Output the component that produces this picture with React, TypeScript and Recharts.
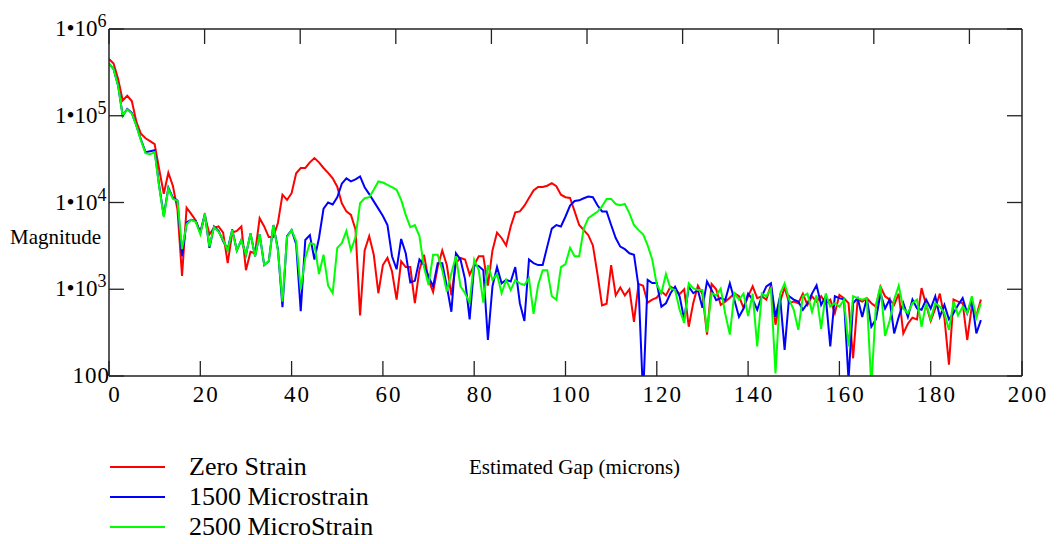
import React from "react";
import { LineChart, Line, XAxis, YAxis, Legend } from "recharts";

const gapMicrons = [
  0, 1, 2, 3, 4, 5, 6, 7, 8, 9, 10, 11, 12, 13, 14, 15, 16, 17, 18, 19,
  20, 21, 22, 23, 24, 25, 26, 27, 28, 29, 30, 31, 32, 33, 34, 35, 36, 37, 38, 39,
  40, 41, 42, 43, 44, 45, 46, 47, 48, 49, 50, 51, 52, 53, 54, 55, 56, 57, 58, 59,
  60, 61, 62, 63, 64, 65, 66, 67, 68, 69, 70, 71, 72, 73, 74, 75, 76, 77, 78, 79,
  80, 81, 82, 83, 84, 85, 86, 87, 88, 89, 90, 91, 92, 93, 94, 95, 96, 97, 98, 99,
  100, 101, 102, 103, 104, 105, 106, 107, 108, 109, 110, 111, 112, 113, 114, 115, 116, 117, 118, 119,
  120, 121, 122, 123, 124, 125, 126, 127, 128, 129, 130, 131, 132, 133, 134, 135, 136, 137, 138, 139,
  140, 141, 142, 143, 144, 145, 146, 147, 148, 149, 150, 151, 152, 153, 154, 155, 156, 157, 158, 159,
  160, 161, 162, 163, 164, 165, 166, 167, 168, 169, 170, 171, 172, 173, 174, 175, 176, 177, 178, 179,
  180, 181, 182, 183, 184, 185, 186, 187, 188, 189, 190, 191,
];

const zeroStrain = [
  450000, 400000, 265000, 150000, 170000, 148000, 85000, 62000, 55000, 51000,
  47000, 24000, 12600, 22000, 15500, 8300, 1420, 8700, 7400, 6200,
  4500, 7000, 4300, 5100, 5300, 4500, 2000, 4500, 4700, 5300,
  1660, 2700, 2600, 6600, 5300, 4000, 4000, 5800, 12300, 10700,
  12800, 21700, 25000, 25000, 29000, 32500, 29000, 25000, 22000, 19000,
  15200, 9800, 7900, 7200, 4900, 500, 2800, 4100, 2500, 900,
  1900, 2300, 1600, 760, 2100, 1800, 1800, 690, 1670, 2500,
  1280, 930, 1800, 2800, 1900, 850, 2000, 2300, 2200, 1470,
  1900, 2400, 2400, 1100, 2800, 4500, 3900, 3200, 5300, 7700,
  7900, 9200, 11300, 13800, 15100, 15100, 15600, 16700, 15400, 12300,
  11500, 11300, 7900, 5500, 4800, 4200, 3200, 1500, 650, 680,
  1900, 850, 1050, 850, 1000, 420, 1150, 1100, 700, 760,
  800, 950, 850, 1070, 1000, 880, 1000, 370, 700, 1100,
  880, 300, 1150, 1000, 660, 720, 800, 900, 830, 610,
  830, 1080, 790, 830, 760, 1120, 390, 720, 1050, 690,
  720, 690, 890, 660, 830, 720, 830, 690, 760, 530,
  860, 790, 690, 160, 760, 720, 790, 690, 630, 1070,
  830, 760, 660, 890, 310, 400, 470, 450, 1030, 660,
  430, 600, 890, 470, 135, 760, 720, 690, 260, 630,
  490, 760,
];

const microstrain1500 = [
  400000, 345000, 222000, 100000, 120000, 108000, 77000, 53000, 38000, 39000,
  40000, 15500, 7000, 14800, 11400, 10500, 2400, 5900, 6300, 6100,
  4500, 7400, 3000, 5300, 4700, 3600, 2900, 4900, 2800, 3700,
  2500, 4400, 2400, 4300, 1900, 2100, 5500, 2900, 620, 4100,
  4800, 3300, 560, 3700, 4200, 2200, 3900, 8500, 10000, 9500,
  11500, 16500, 19000, 17500, 18500, 20000, 15000, 12500, 10300, 8500,
  7000, 5500, 2400, 1700, 3800, 2600, 1200, 1250, 2200, 1900,
  1400, 1080, 2000, 2000, 1080, 550, 2600, 2200, 1300, 450,
  1900, 1850, 1660, 260, 1080, 1800, 1170, 1280, 1230, 1800,
  690, 430, 2200, 2000, 1900, 1900, 3100, 5000, 5500, 5300,
  6900, 9200, 10400, 10600, 11200, 11700, 11500, 9300, 7900, 7900,
  5500, 3900, 3100, 2900, 2600, 2500, 1070, 58, 1280, 1180,
  1180, 630, 690, 900, 1070, 830, 450, 1070, 900, 980,
  610, 1230, 980, 750, 790, 750, 1170, 750, 480, 600,
  890, 760, 580, 830, 1080, 1170, 480, 830, 200, 830,
  760, 720, 580, 690, 890, 1110, 660, 830, 220, 830,
  790, 760, 90, 690, 790, 480, 790, 370, 450, 890,
  600, 760, 310, 480, 690, 480, 760, 600, 580, 760,
  600, 830, 480, 660, 450, 530, 660, 790, 530, 760,
  310, 440,
];

const microstrain2500 = [
  400000, 345000, 222000, 100000, 118000, 106000, 77000, 52000, 37000, 36000,
  38000, 15000, 6800, 14500, 11000, 10500, 2900, 5600, 6300, 6000,
  4300, 7400, 3100, 5200, 4600, 3700, 2800, 4800, 2800, 3700,
  2500, 4400, 2400, 4300, 1900, 2100, 5500, 2800, 720, 4000,
  4800, 3600, 1000, 2300, 3400, 3300, 1500, 2500, 1100, 900,
  3000, 3400, 4700, 2800, 4000, 9800, 11200, 11500, 14000, 17500,
  17000, 16000, 15000, 14000, 10700, 7200, 5200, 5500, 4100, 1800,
  1120, 2500, 2500, 1660, 940, 1540, 2400, 1080, 900, 700,
  2200, 1660, 700, 1900, 1280, 1500, 900, 1280, 980, 1280,
  1170, 1120, 1340, 520, 1120, 1660, 1660, 830, 760, 1800,
  1950, 3000, 2400, 2400, 5000, 6600, 7200, 7800, 9000, 11000,
  11000, 9600, 9300, 9600, 7500, 5500, 4800, 4300, 3200, 2200,
  1130, 900, 1500, 1020, 980, 580, 410, 1170, 1020, 980,
  980, 320, 900, 850, 1020, 520, 300, 900, 760, 890,
  490, 890, 220, 890, 830, 1020, 107, 890, 1170, 760,
  580, 340, 830, 890, 550, 850, 350, 890, 630, 690,
  630, 760, 220, 830, 790, 760, 790, 76, 660, 1100,
  290, 430, 760, 1100, 600, 530, 690, 760, 370, 690,
  450, 690, 630, 530, 340, 720, 500, 630, 530, 830,
  470, 690,
];

const xTicks = [0, 20, 40, 60, 80, 100, 120, 140, 160, 180, 200];
const yTicks = [100, 1000, 10000, 100000, 1000000];

const seriesNames = ["Zero Strain", "1500 Microstrain", "2500 MicroStrain"];
const seriesColors = ["#ff0000", "#0000ff", "#00ff00"];

const data = gapMicrons.map((g, i) => ({
  gap: g,
  zero: zeroStrain[i],
  m1500: microstrain1500[i],
  m2500: microstrain2500[i],
}));

const FONT = "'Liberation Serif', 'Times New Roman', serif";
const AXIS = "#222";

const XTickBottom = (props: any) => {
  const { x, y, payload } = props;
  return (
    <g>
      <line x1={x} y1={y} x2={x} y2={y - 15} stroke={AXIS} strokeWidth={1.3} />
      <text x={x + 6} y={y + 26} textAnchor="middle" fontSize={23} letterSpacing={2} fontFamily={FONT} fill="#000">
        {payload.value}
      </text>
    </g>
  );
};

const XTickTop = (props: any) => {
  const { x, y } = props;
  return <line x1={x} y1={y} x2={x} y2={y + 15} stroke={AXIS} strokeWidth={1.3} />;
};

const YTickLeft = (props: any) => {
  const { x, y, payload } = props;
  const v = payload.value;
  const exp = Math.round(Math.log10(v));
  return (
    <g>
      <line x1={x} y1={y} x2={x + 15} y2={y} stroke={AXIS} strokeWidth={1.3} />
      {v === 100 ? (
        <text x={x + 1} y={y + 7} textAnchor="end" fontSize={23} letterSpacing={1} fontFamily={FONT} fill="#000">
          100
        </text>
      ) : (
        <text x={x - 54} y={y + 7} textAnchor="start" fontSize={23} fontFamily={FONT} fill="#000">
          1•10
          <tspan dx={0} dy={-9} fontSize={18}>
            {exp}
          </tspan>
        </text>
      )}
    </g>
  );
};

const YTickRight = (props: any) => {
  const { x, y } = props;
  return <line x1={x} y1={y} x2={x - 15} y2={y} stroke={AXIS} strokeWidth={1.3} />;
};

const renderLegend = () => {
  return (
    <div style={{ fontFamily: FONT }}>
      {seriesNames.map((name, i) => (
        <div key={name} style={{ display: "flex", alignItems: "center", height: 30 }}>
          <div style={{ width: 55, height: 2, background: seriesColors[i], marginRight: 24 }} />
          <span style={{ fontSize: 26, color: "#000", whiteSpace: "nowrap" }}>{name}</span>
        </div>
      ))}
    </div>
  );
};

export default function App() {
  return (
    <div style={{ width: 1042, height: 528, fontFamily: FONT }}>
      <LineChart
        width={1042}
        height={528}
        data={data}
        margin={{ top: 20, right: 27, bottom: 159, left: 100 }}
      >
        <XAxis
          xAxisId="bottom"
          dataKey="gap"
          type="number"
          domain={[0, 200]}
          ticks={xTicks}
          interval={0}
          allowDataOverflow
          height={1}
          tickSize={0}
          tickMargin={0}
          tickLine={false}
          axisLine={{ stroke: AXIS, strokeWidth: 1.5 }}
          tick={<XTickBottom />}
          label={{
            value: "Estimated Gap (microns)",
            content: (p: any) => (
              <text x={p.viewBox.x + 360} y={p.viewBox.y + 98} fontSize={21} fontFamily={FONT} fill="#000">
                Estimated Gap (microns)
              </text>
            ),
          }}
        />
        <XAxis
          xAxisId="top"
          orientation="top"
          type="number"
          domain={[0, 200]}
          ticks={xTicks}
          interval={0}
          allowDataOverflow
          height={1}
          tickSize={0}
          tickMargin={0}
          tickLine={false}
          axisLine={{ stroke: AXIS, strokeWidth: 1.5 }}
          tick={<XTickTop />}
        />
        <YAxis
          yAxisId="left"
          scale="log"
          type="number"
          domain={[100, 1000000]}
          ticks={yTicks}
          interval={0}
          allowDataOverflow
          width={1}
          tickSize={0}
          tickMargin={0}
          tickLine={false}
          axisLine={{ stroke: AXIS, strokeWidth: 1.5 }}
          tick={<YTickLeft />}
          label={{
            value: "Magnitude",
            content: (p: any) => (
              <text x={p.viewBox.x - 98} y={p.viewBox.y + 215} fontSize={21} fontFamily={FONT} fill="#000">
                Magnitude
              </text>
            ),
          }}
        />
        <YAxis
          yAxisId="right"
          orientation="right"
          scale="log"
          type="number"
          domain={[100, 1000000]}
          ticks={yTicks}
          interval={0}
          allowDataOverflow
          width={1}
          tickSize={0}
          tickMargin={0}
          tickLine={false}
          axisLine={{ stroke: AXIS, strokeWidth: 1.5 }}
          tick={<YTickRight />}
        />
        <Legend
          layout="horizontal"
          verticalAlign="middle"
          align="center"
          content={renderLegend}
          wrapperStyle={{ position: "absolute", left: 102, top: 444, width: 420, height: 92 }}
        />
        <Line
          xAxisId="bottom"
          yAxisId="left"
          dataKey="zero"
          name={seriesNames[0]}
          stroke={seriesColors[0]}
          strokeWidth={2}
          dot={false}
          isAnimationActive={false}
        />
        <Line
          xAxisId="bottom"
          yAxisId="left"
          dataKey="m1500"
          name={seriesNames[1]}
          stroke={seriesColors[1]}
          strokeWidth={2}
          dot={false}
          isAnimationActive={false}
        />
        <Line
          xAxisId="bottom"
          yAxisId="left"
          dataKey="m2500"
          name={seriesNames[2]}
          stroke={seriesColors[2]}
          strokeWidth={2}
          dot={false}
          isAnimationActive={false}
        />
      </LineChart>
    </div>
  );
}
